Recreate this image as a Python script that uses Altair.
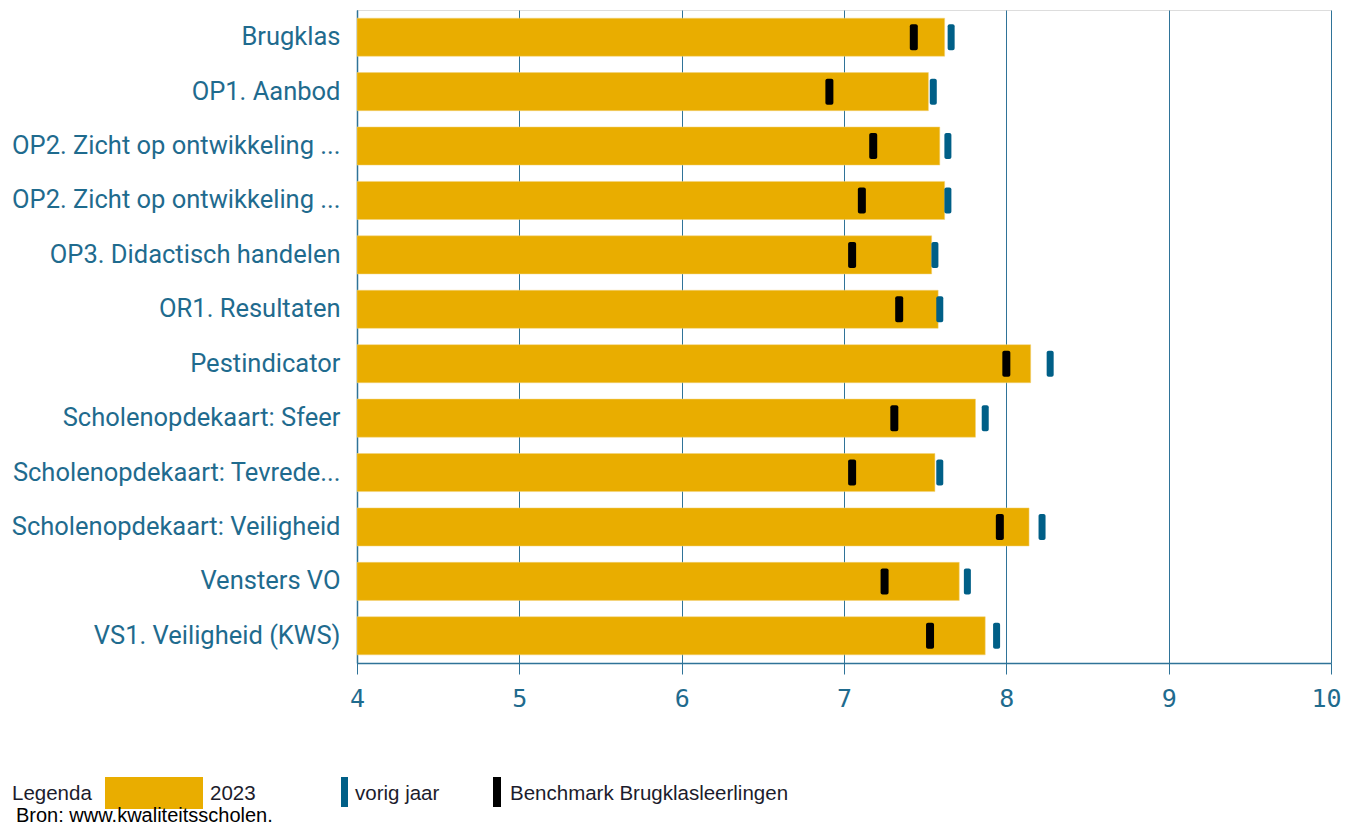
import json
import altair as alt
import pandas as pd

labels = [
    "Brugklas",
    "OP1. Aanbod",
    "OP2. Zicht op ontwikkeling ...",
    "OP2. Zicht op ontwikkeling ...",
    "OP3. Didactisch handelen",
    "OR1. Resultaten",
    "Pestindicator",
    "Scholenopdekaart: Sfeer",
    "Scholenopdekaart: Tevrede...",
    "Scholenopdekaart: Veiligheid",
    "Vensters VO",
    "VS1. Veiligheid (KWS)",
]
score_2023 = [7.62, 7.52, 7.59, 7.62, 7.54, 7.58, 8.15, 7.81, 7.56, 8.14, 7.71, 7.87]
vorig_jaar = [7.66, 7.55, 7.64, 7.64, 7.56, 7.59, 8.27, 7.87, 7.59, 8.22, 7.76, 7.94]
benchmark = [7.43, 6.91, 7.18, 7.11, 7.05, 7.34, 8.00, 7.31, 7.05, 7.96, 7.25, 7.53]
x_ticks = [4, 5, 6, 7, 8, 9, 10]
legend_labels = ["Legenda", "2023", "vorig jaar", "Benchmark Brugklasleerlingen"]
source_note = "Bron: www.kwaliteitsscholen."

keys = [f"{i:02d}" for i in range(len(labels))]
df = pd.DataFrame({
    "key": keys,
    "label": labels,
    "score": score_2023,
    "vorig": vorig_jaar,
    "bench": benchmark,
})

BLUE_TXT = "#1f6b8e"
GRID = "#2f7398"
ORANGE = "#E9AD00"
BLUE = "#005F87"

label_expr = json.dumps(labels) + "[toNumber(datum.value)]"

W, H = 974, 653
PAD_L, PAD_T, PAD_R, PAD_B = 349, 2, 10, 162

yenc = alt.Y(
    "key:N",
    sort=keys,
    title=None,
    scale=alt.Scale(paddingInner=0.3, paddingOuter=0.15),
    axis=alt.Axis(
        labelExpr=label_expr,
        labelFont="Roboto",
        labelFontSize=25.5,
        labelColor=BLUE_TXT,
        labelPadding=17,
        ticks=False,
        domain=True,
        domainColor=GRID,
        domainWidth=1.5,
        grid=False,
        labelLimit=400,
    ),
)

last_tick = x_ticks[-1]
xscale = alt.Scale(domain=[4, 10], nice=False, zero=False)
xaxis = alt.Axis(
    values=x_ticks,
    format="d",
    title=None,
    labelFont="DejaVu Sans Mono",
    labelFontSize=25,
    labelColor=BLUE_TXT,
    labelPadding=12,
    labelAlign={"condition": {"test": f"datum.value == {last_tick}", "value": "right"}, "value": "center"},
    labelOffset={"condition": {"test": f"datum.value == {last_tick}", "value": 10}, "value": 0},
    tickColor=GRID,
    tickSize=11,
    tickWidth=1,
    domainColor=GRID,
    domainWidth=1.5,
    grid=True,
    gridColor=GRID,
    gridWidth=1,
    gridOpacity=1,
    labelFlush=False,
)

base = alt.Chart(df)

bars = base.mark_bar(color=ORANGE, stroke="#f3d27a", strokeWidth=0.5).encode(
    x=alt.X("score:Q", scale=xscale, axis=xaxis),
    x2=alt.datum(4),
    y=yenc,
)

prev = base.mark_tick(color=BLUE, thickness=7, size=26, cornerRadius=2, opacity=1).encode(
    x=alt.X("vorig:Q"),
    y=alt.Y("key:N", sort=keys),
)

bench = base.mark_tick(color="#000000", thickness=8, size=26, cornerRadius=2, opacity=1).encode(
    x=alt.X("bench:Q"),
    y=alt.Y("key:N", sort=keys),
)

# Legend (custom, below chart); coordinates relative to the plot origin
leg_y = 784
lt = []
for txt, xpos in zip(legend_labels, [-345, -147, -2, 153]):
    lt.append(
        alt.Chart(pd.DataFrame({"t": [txt]})).mark_text(
            align="left", baseline="middle", font="Liberation Sans", fontSize=20.5, color="#1c1c2c"
        ).encode(text="t:N", x=alt.value(xpos), y=alt.value(leg_y))
    )
leg_rect = alt.Chart(pd.DataFrame({"a": [1]})).mark_rect(color=ORANGE).encode(
    x=alt.value(105 - 357), x2=alt.value(203 - 357), y=alt.value(leg_y - 17), y2=alt.value(leg_y + 15)
)
leg_blue = alt.Chart(pd.DataFrame({"a": [1]})).mark_rect(color=BLUE).encode(
    x=alt.value(341 - 357), x2=alt.value(348 - 357), y=alt.value(leg_y - 17), y2=alt.value(leg_y + 13)
)
leg_black = alt.Chart(pd.DataFrame({"a": [1]})).mark_rect(color="#000000").encode(
    x=alt.value(493 - 357), x2=alt.value(501 - 357), y=alt.value(leg_y - 17), y2=alt.value(leg_y + 13)
)
bron = alt.Chart(pd.DataFrame({"t": [source_note]})).mark_text(
    align="left", baseline="middle", font="Liberation Sans", fontSize=20, color="#000000"
).encode(text="t:N", x=alt.value(16 - 357), y=alt.value(806))

chart = alt.layer(bars, prev, bench, leg_rect, leg_blue, leg_black, *lt, bron).properties(
    width=W,
    height=H,
    padding={"left": PAD_L, "top": PAD_T, "right": PAD_R, "bottom": PAD_B},
    autosize=alt.AutoSizeParams(type="none"),
).configure_view(stroke=None).configure(background="white")

chart.save("out.html", embed_options={"renderer": "svg", "actions": False})
